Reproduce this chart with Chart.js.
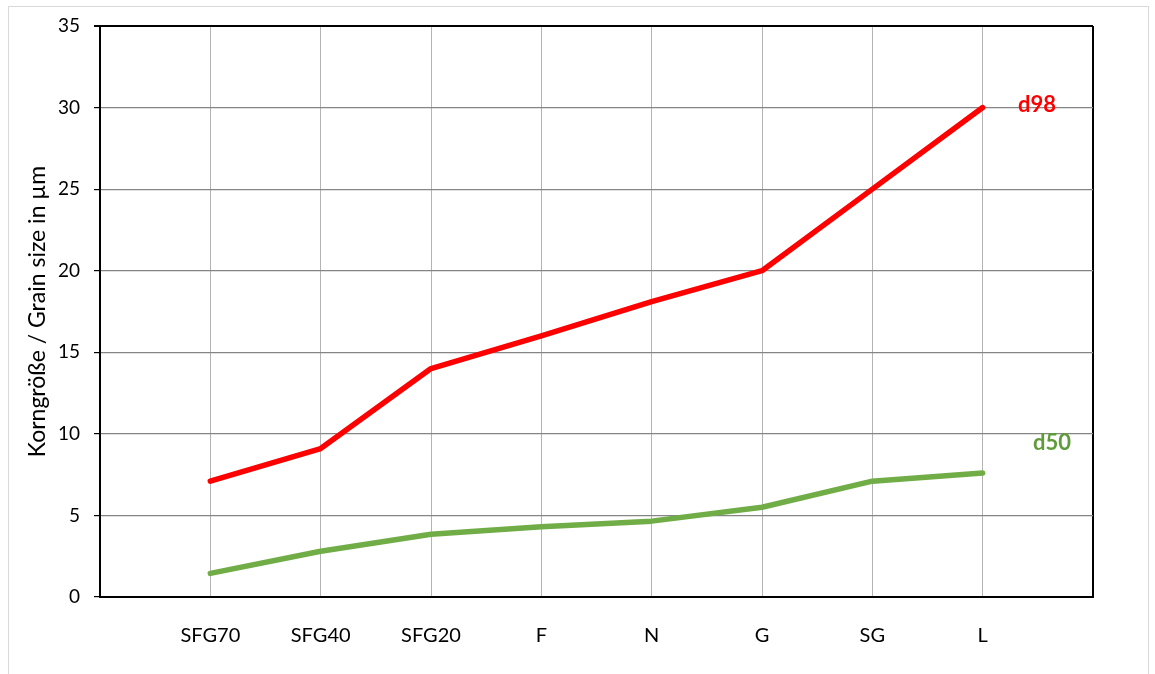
<!DOCTYPE html>
<html>
<head>
<meta charset="utf-8">
<script src="https://cdn.jsdelivr.net/npm/chart.js@4.4.1/dist/chart.umd.min.js"></script>
<style>
  body { margin: 0; background: #fff; }
  #frame { position: absolute; left: 8px; top: 6px; width: 1139px; height: 700px; border: 1px solid #d9d9d9; }
  #wrap { position: absolute; left: 0; top: 0; width: 1155px; height: 674px; }
</style>
</head>
<body>
<div id="frame"></div>
<div id="wrap"><canvas id="viz1"></canvas></div>
<script>
// categorias (primera y última vacías, como en el original)
const categories = ['', 'SFG70', 'SFG40', 'SFG20', 'F', 'N', 'G', 'SG', 'L', ''];
const d98 = [null, 7.1, 9.1, 14.0, 16.0, 18.1, 20.0, 25.0, 30.0, null];
const d50 = [null, 1.45, 2.8, 3.85, 4.3, 4.65, 5.5, 7.1, 7.6, null];
const yTicks = [0, 5, 10, 15, 20, 25, 30, 35];

// etiquetas d98 / d50 junto al último punto
const seriesLabels = {
    id: 'seriesLabels',
    afterDatasetsDraw(chart) {
        const c = chart.ctx, xs = chart.scales.x, ys = chart.scales.y;
        const xEnd = xs.getPixelForValue(categories.length - 1);
        c.save();
        c.font = 'bold 22px Lato';
        c.textAlign = 'center';
        c.textBaseline = 'middle';
        c.fillStyle = '#ff0000';
        c.fillText('d98', xEnd - 56, ys.getPixelForValue(d98[8]) - 3);
        c.fillStyle = '#5e9c3a';
        c.fillText('d50', xEnd - 41, ys.getPixelForValue(d50[8] + 1.85));
        c.restore();
    }
};

const ctx1 = document.getElementById('viz1').getContext('2d');
const chart1 = new Chart(ctx1, {
    type: 'line',
    data: {
        labels: categories,
        datasets: [{
            label: 'd98',
            data: d98,
            borderColor: '#ff0000',
            borderWidth: 5.5
        }, {
            label: 'd50',
            data: d50,
            borderColor: '#70ad47',
            borderWidth: 5.5
        }]
    },
    options: {
        responsive: true,
        maintainAspectRatio: false,
        animation: false,
        elements: {
            point: { radius: 0 },
            line: { tension: 0, borderCapStyle: 'round', borderJoinStyle: 'round' }
        },
        layout: { padding: { top: 26, right: 62, left: 0, bottom: 0 } },
        plugins: { legend: { display: false }, tooltip: { enabled: false } },
        scales: {
            x: {
                offset: false,
                afterFit(s) { s.height = 77; },
                border: { color: '#000', width: 2 },
                grid: {
                    drawTicks: false,
                    color: (c) => c.index === categories.length - 1 ? '#000' : '#b4b4b4',
                    lineWidth: (c) => c.index === categories.length - 1 ? 2 : 1
                },
                ticks: {
                    padding: 27,
                    color: '#000',
                    maxRotation: 0,
                    autoSkip: false,
                    font: { family: 'Lato', size: 20 }
                }
            },
            y: {
                min: 0,
                max: 35,
                afterFit(s) { s.width = 100; },
                afterBuildTicks(s) { s.ticks = yTicks.map(v => ({ value: v })); },
                border: { color: '#000', width: 2 },
                grid: {
                    color: (c) => c.tick && c.tick.value === 35 ? '#000' : '#858585',
                    lineWidth: (c) => c.tick && c.tick.value === 35 ? 2 : 1.2,
                    tickColor: '#000',
                    tickLength: 6
                },
                ticks: {
                    padding: 14,
                    color: '#000',
                    font: { family: 'Lato', size: 19 }
                },
                title: {
                    display: true,
                    text: 'Korngröße / Grain size in µm',
                    color: '#000',
                    padding: { top: 24, bottom: 0 },
                    font: { family: 'Lato', size: 23 }
                }
            }
        }
    },
    plugins: [seriesLabels]
});
</script>
</body>
</html>
